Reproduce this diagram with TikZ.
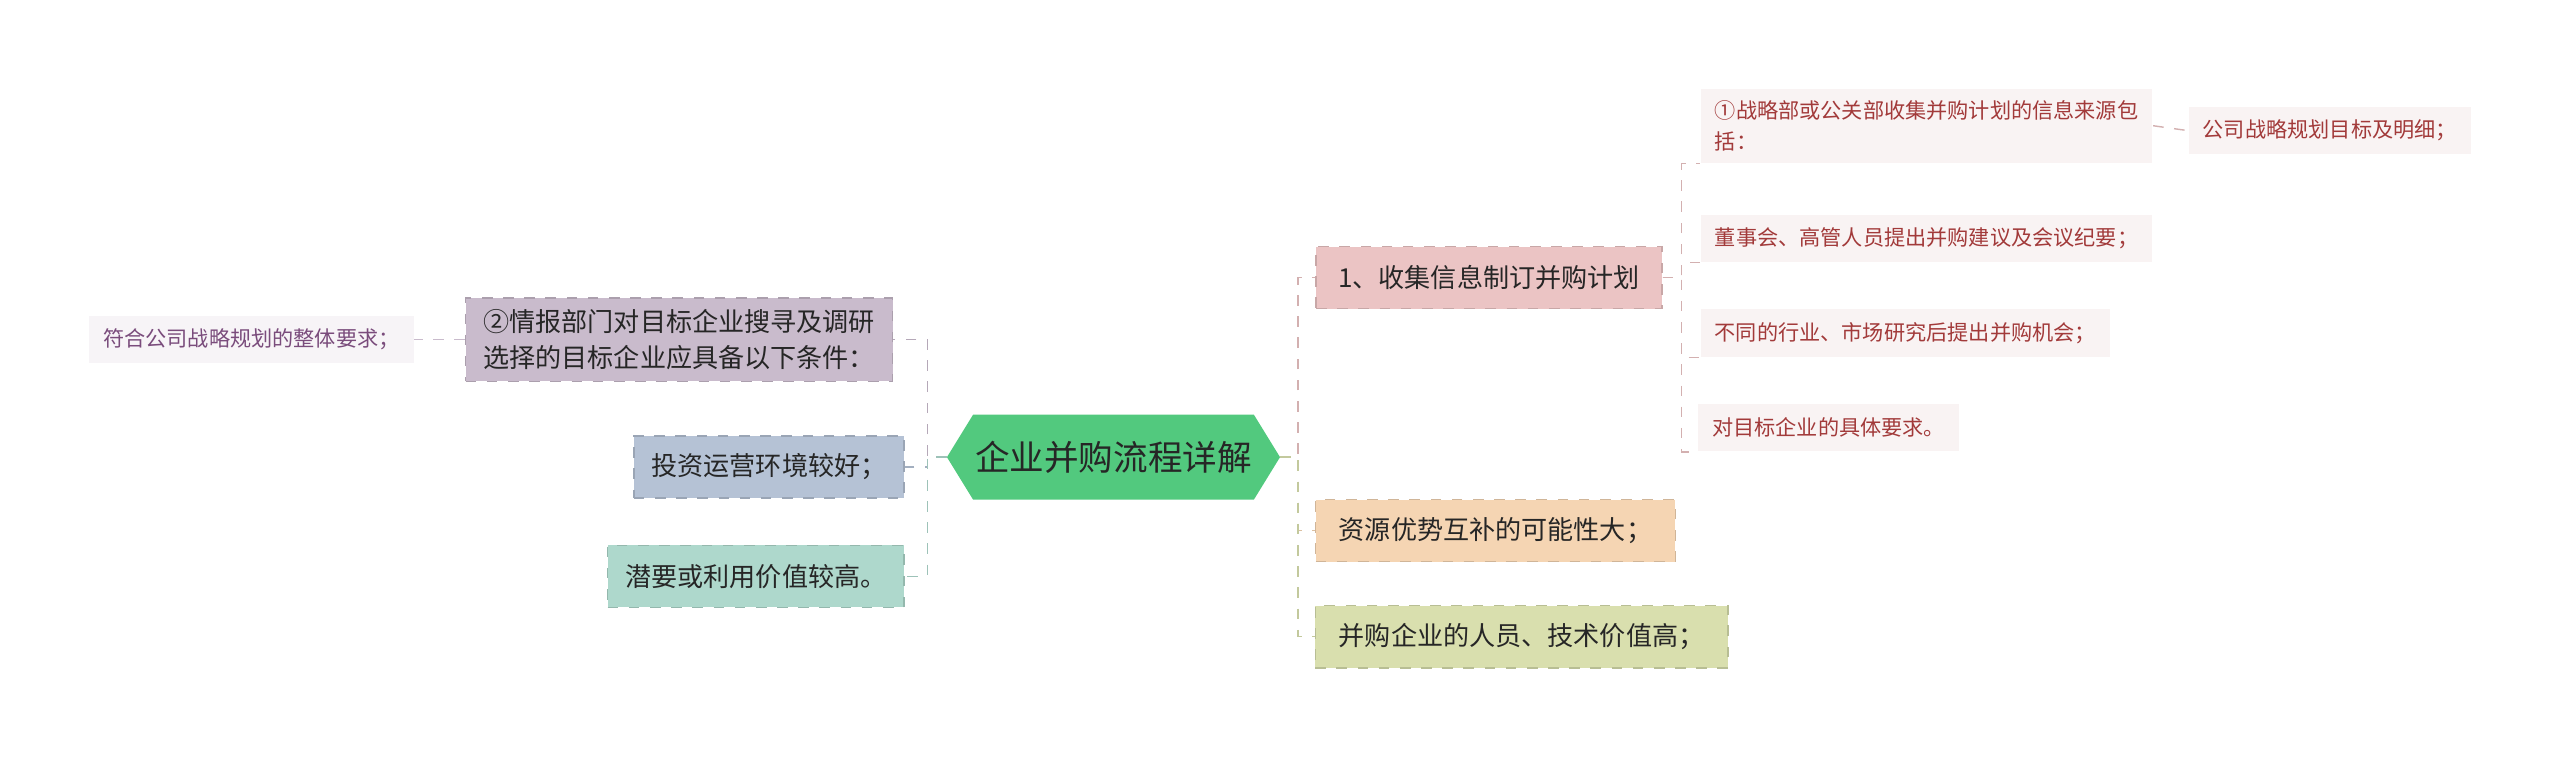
\documentclass[tikz,border=0pt]{standalone}
\usepackage{fontspec}
\setmainfont{Noto Sans CJK SC}
\definecolor{rootgreen}{HTML}{52C97E}
\definecolor{pinkbox}{HTML}{EBC4C4}
\definecolor{orangebox}{HTML}{F5D5B3}
\definecolor{olivebox}{HTML}{D9DFAE}
\definecolor{purplebox}{HTML}{C9BBCC}
\definecolor{bluebox}{HTML}{B5C2D5}
\definecolor{tealbox}{HTML}{AED8CC}
\definecolor{redtext}{HTML}{A23A3A}
\definecolor{purpletext}{HTML}{7A4C7C}
\begin{document}
\begin{tikzpicture}[x=0.4627pt,y=-0.4627pt,
  mainbox/.style={draw=#1!85!black,dashed,fill=#1,font=\fontsize{7.4}{10}\selectfont,
    text=black!85,inner xsep=5pt,minimum height=17.6pt},
  subbox/.style={fill=#1!6,text=#1,font=\fontsize{6}{8.6}\selectfont,inner xsep=4pt,minimum height=13.4pt},
  link/.style={draw=#1,dashed,thin}]
  \useasboundingbox (0,0) rectangle (1568,467);
  % root
  \fill[rootgreen] (580,280) -- (596,254) -- (768,254) -- (784,280) -- (768,306) -- (596,306) -- cycle;
  \node[font=\fontsize{9.8}{11}\selectfont,text=black!85,minimum width=94pt] (root) at (682,280) {企业并购流程详解};
  \coordinate (rj) at (795,280);
  \coordinate (lj) at (568,280);
  \coordinate (sj) at (1030,170);
  % right branch
  \node[mainbox=pinkbox,minimum width=98pt] (collect) at (912,170) {1、收集信息制订并购计划};
  \node[mainbox=orangebox,minimum width=102pt] (resource) at (916,325) {资源优势互补的可能性大；};
  \node[mainbox=olivebox,minimum width=117pt] (staff) at (932,390) {并购企业的人员、技术价值高；};
  \node[subbox=redtext,align=left] (source) at (1180,77) {①战略部或公关部收集并购计划的信息来源包\\括：};
  \node[subbox=redtext] (target) at (1427,80) {公司战略规划目标及明细；};
  \node[subbox=redtext] (board) at (1180,146) {董事会、高管人员提出并购建议及会议纪要；};
  \node[subbox=redtext] (market) at (1167,204) {不同的行业、市场研究后提出并购机会；};
  \node[subbox=redtext] (demand) at (1120,262) {对目标企业的具体要求。};
  % left branch
  \node[mainbox=purplebox,align=left] (intel) at (416,208) {②情报部门对目标企业搜寻及调研\\选择的目标企业应具备以下条件：};
  \node[mainbox=bluebox] (invest) at (471,286) {投资运营环境较好；};
  \node[mainbox=tealbox] (value) at (463,353) {潜要或利用价值较高。};
  \node[subbox=purpletext] (strategy) at (154,208) {符合公司战略规划的整体要求；};
  % links
  \foreach \n/\c in {collect/pinkbox,resource/orangebox,staff/olivebox}
    \draw[link=\c!90!black] (root.east) -- (rj) -- (rj |- \n.west) -- (\n.west);
  \foreach \n/\c in {intel/purplebox,invest/bluebox,value/tealbox}
    \draw[link=\c!90!black] (root.west) -- (lj) -- (lj |- \n.east) -- (\n.east);
  \foreach \n in {source,board,market,demand}
    \draw[link=pinkbox!90!black] (collect.east) -- (sj) -- (sj |- \n.south west) -- (\n.south west);
  \draw[link=pinkbox!90!black] (source.east) -- (target.west);
  \draw[link=purplebox] (intel.west) -- (strategy.east);
\end{tikzpicture}
\end{document}
